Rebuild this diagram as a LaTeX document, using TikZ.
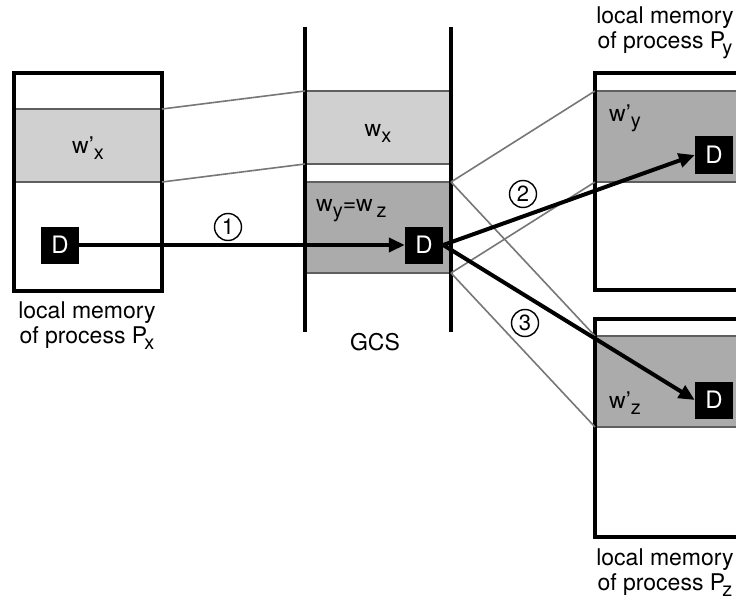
\documentclass[tikz,border=0pt]{standalone}
\usepackage{fontspec}
\setmainfont{TeX Gyre Heros}
\usetikzlibrary{arrows.meta}
\newcommand\sbx[1]{\raisebox{-0.5ex}{\fontsize{20}{20}\selectfont #1}}
\definecolor{lightband}{HTML}{D0D0D0}
\definecolor{darkband}{HTML}{ABABAB}
\definecolor{linkgray}{HTML}{777777}
\tikzset{
  txt/.style={font=\fontsize{23}{25}\selectfont, inner sep=0pt},
  dbox/.style={fill=black, text=white, minimum width=38pt, minimum height=37pt, inner sep=0pt, font=\fontsize{24}{24}\selectfont},
  frame/.style={draw=black, line width=3.3pt},
  bandedge/.style={draw=linkgray!80!black, line width=1.3pt},
  link/.style={draw=linkgray, line width=1.6pt},
  flow/.style={draw=black, line width=4pt, -{Triangle[length=16pt,width=14pt]}},
  step num/.style={circle, draw=black, line width=1.4pt, minimum size=27pt, inner sep=0pt, font=\fontsize{22}{22}\selectfont},
}
\begin{document}
\begin{tikzpicture}[x=1pt,y=-1pt]
\clip (0,0) rectangle (736,599);
\fill[white] (0,0) rectangle (736,599);
% Px box
\fill[lightband] (14,109) rectangle (162,182);
\draw[bandedge] (14,109) -- (162,109) (14,182) -- (162,182);
\draw[frame] (14,73) rectangle (162,291);
% GCS
\fill[lightband] (305,91) rectangle (451,164);
\draw[bandedge] (305,91) -- (451,91) (305,164) -- (451,164);
\fill[darkband] (305,182) rectangle (451,273);
\draw[bandedge] (305,182) -- (451,182) (305,273) -- (451,273);
\draw[frame] (305,27) -- (305,332);
\draw[frame] (451,27) -- (451,332);
% Py box
\fill[darkband] (595,91) rectangle (760,182);
\draw[bandedge] (595,91) -- (760,91) (595,182) -- (760,182);
\draw[frame] (595,73) rectangle (760,290);
% Pz box
\fill[darkband] (595,336) rectangle (760,427);
\draw[bandedge] (595,336) -- (760,336) (595,427) -- (760,427);
\draw[frame] (595,319) rectangle (760,537);
% link lines
\draw[link] (162,109) -- (305,91);
\draw[link] (162,182) -- (305,164);
\draw[link] (451,182) -- (595,91);
\draw[link] (451,273) -- (595,182);
\draw[link] (451,182) -- (595,336);
\draw[link] (451,273) -- (595,427);
% texts
\node[txt] (wx1) at (88,148) {w’\sbx{x}};
\node[txt] (wx) at (378,133) {w\sbx{x}};
\node[txt, anchor=west] (wyz) at (316,211) {w\sbx{y}=w\,\sbx{z}};
\node[txt, anchor=west] (wy1) at (609,118) {w’\sbx{y}};
\node[txt, anchor=west] (wz1) at (609,403) {w’\sbx{z}};
\node[txt, align=center] (lx) at (87,326) {local memory\\of process P\kern-0.12em\sbx{x}};
\node[txt] (gcs) at (375,342) {GCS};
\node[txt, align=center] (ly) at (665,33) {local memory\\of process P\kern-0.12em\sbx{y}};
\node[txt, align=center] (lz) at (665,573) {local memory\\of process P\kern-0.12em\sbx{z}};
% D boxes
\node[dbox] (d1) at (60,245) {D};
\node[dbox] (d2) at (424,245) {D};
\node[dbox] (d3) at (714,155) {D};
\node[dbox] (d4) at (714,400) {D};
% arrows
\draw[flow] (d1.east) -- (d2.west);
\draw[flow] (d2.east) -- (d3.west);
\draw[flow] (d2.east) -- (d4.west);
% step numbers
\node[step num] (n1) at (228,227) {1};
\node[step num] (n2) at (523,194) {2};
\node[step num] (n3) at (525,323) {3};
\end{tikzpicture}
\end{document}
